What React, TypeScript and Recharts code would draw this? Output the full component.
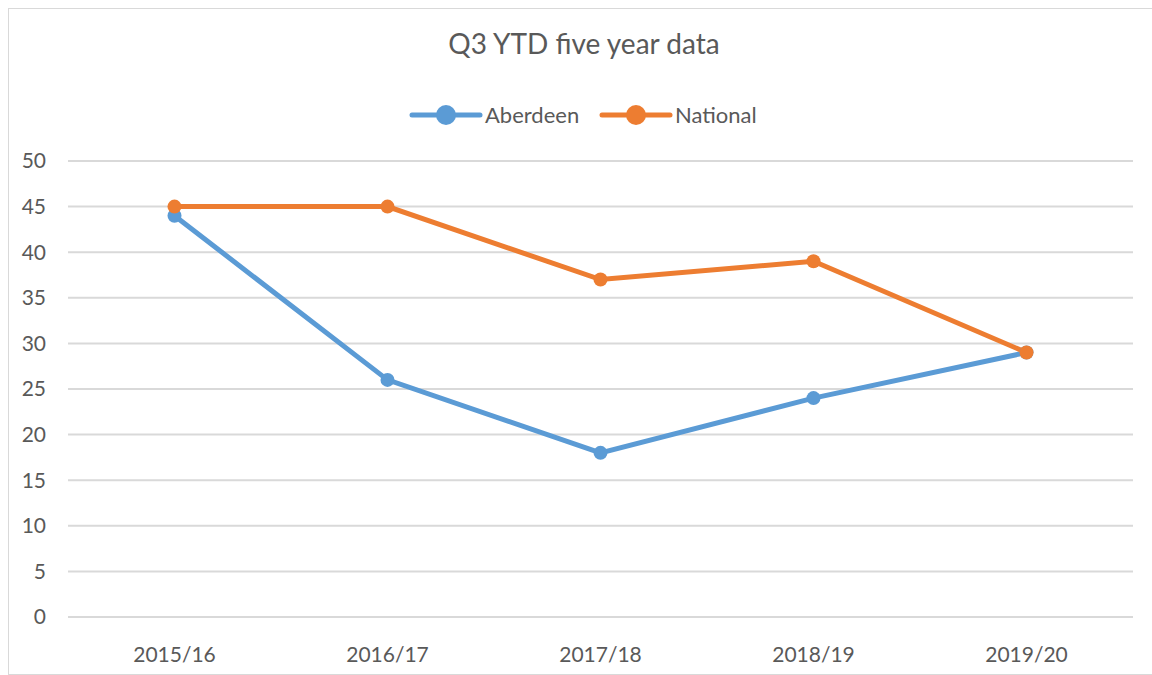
import { CartesianGrid, Line, LineChart, XAxis, YAxis } from "recharts";

const years = ["2015/16", "2016/17", "2017/18", "2018/19", "2019/20"];
const aberdeen = [44, 26, 18, 24, 29];
const national = [45, 45, 37, 39, 29];
const yTicks = [0, 5, 10, 15, 20, 25, 30, 35, 40, 45, 50];

const BLUE = "#5b9bd5";
const ORANGE = "#ed7d31";
const TEXT = "#595959";
const FONT = "Lato, 'Open Sans', sans-serif";

const rows = years.map((year, i) => ({ year, Aberdeen: aberdeen[i], National: national[i] }));

function LegendRow() {
  const items = [
    { name: "Aberdeen", color: BLUE, x: 412 },
    { name: "National", color: ORANGE, x: 602 },
  ];
  return (
    <svg width={1152} height={30} style={{ position: "absolute", left: 0, top: 100, display: "block" }}>
      {items.map((it) => (
        <g key={it.name}>
          <line x1={it.x} x2={it.x + 68} y1={15} y2={15} stroke={it.color} strokeWidth={5} strokeLinecap="round" />
          <circle cx={it.x + 34} cy={15} r={10} fill={it.color} />
          <text x={it.x + 73} y={15} dy="0.355em" fill={TEXT} fontSize={22} fontFamily={FONT}>
            {it.name}
          </text>
        </g>
      ))}
    </svg>
  );
}

export default function App() {
  return (
    <div style={{ position: "absolute", left: 0, top: 0, width: 1152, height: 675, overflow: "hidden", background: "#fff" }}>
      <div
        style={{
          position: "absolute",
          left: 8,
          top: 8,
          width: 1160,
          height: 665,
          border: "1px solid #d9d9d9",
        }}
      />
      <div
        style={{
          position: "absolute",
          left: 384,
          width: 400,
          top: 26,
          textAlign: "center",
          fontFamily: FONT,
          fontSize: 28,
          color: TEXT,
          lineHeight: "34px",
        }}
      >
        Q3 YTD five year data
      </div>
      <LegendRow />
      <div style={{ position: "absolute", left: 0, top: 0 }}>
        <LineChart width={1152} height={675} data={rows} margin={{ top: 161, right: 19, bottom: 0, left: 8 }}>
          <CartesianGrid vertical={false} stroke="#d9d9d9" strokeWidth={2} />
          <XAxis
            dataKey="year"
            height={58}
            padding={{ left: 106.5, right: 106.5 }}
            axisLine={{ stroke: "#d9d9d9", strokeWidth: 2 }}
            tickLine={false}
            tickMargin={24}
            tick={{ fill: TEXT, fontSize: 21, fontFamily: FONT }}
          />
          <YAxis
            width={60}
            domain={[0, 50]}
            ticks={yTicks}
            axisLine={false}
            tickLine={false}
            tickMargin={16}
            tick={{ fill: TEXT, fontSize: 21, fontFamily: FONT }}
          />
          <Line
            dataKey="Aberdeen"
            stroke={BLUE}
            strokeWidth={5}
            dot={{ r: 7, fill: BLUE, stroke: BLUE, strokeWidth: 0 }}
            isAnimationActive={false}
          />
          <Line
            dataKey="National"
            stroke={ORANGE}
            strokeWidth={5}
            dot={{ r: 7, fill: ORANGE, stroke: ORANGE, strokeWidth: 0 }}
            isAnimationActive={false}
          />
        </LineChart>
      </div>
    </div>
  );
}
